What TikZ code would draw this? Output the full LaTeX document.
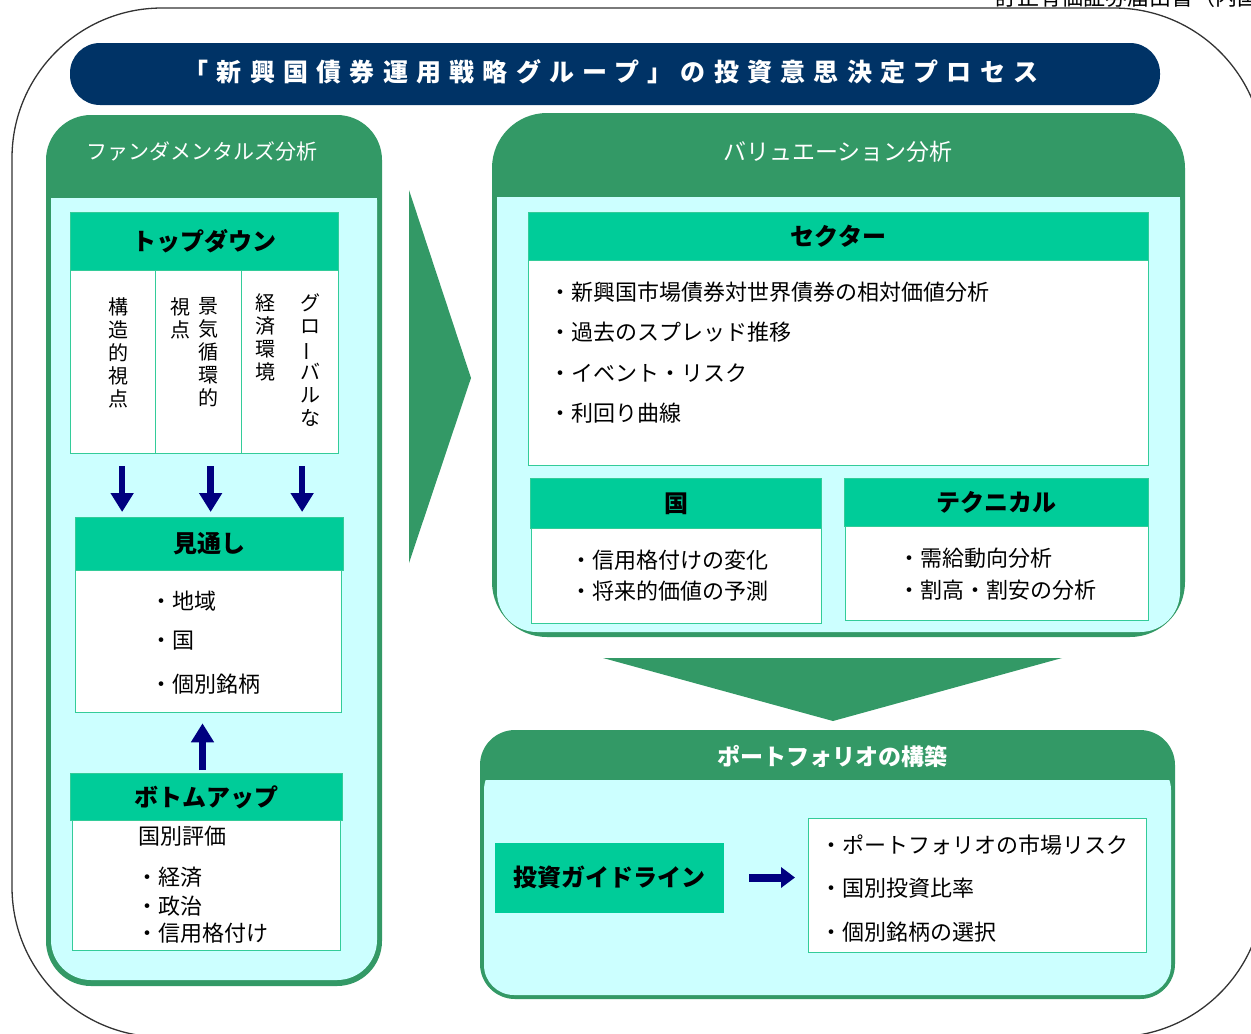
\documentclass[tikz,border=0pt]{standalone}
\usepackage{fontspec}
\usepackage{graphicx}
\setmainfont{Noto Sans CJK JP}
\usetikzlibrary{arrows.meta}

\begin{document}
\begin{tikzpicture}[x=1pt,y=-1pt,
  hdr/.style={fill=hdrgreen,draw=boxline,line width=1pt,anchor=north west,inner sep=0,font=\bfseries\fontsize{24}{28}\selectfont},
  bodybox/.style={fill=white,draw=boxline,line width=1.3pt,anchor=north west,inner sep=0},
  item/.style={anchor=west,inner sep=0,font=\fontsize{22}{26}\selectfont},
  vcol/.style={anchor=north,inner sep=0,align=center,font=\fontsize{20}{23}\selectfont},
  paneltitle/.style={text=white,inner sep=0},
  bigarrow/.style={draw=arrownavy,line width=6.5pt,-{Triangle[width=22pt,length=19pt]}}]
\definecolor{titlenavy}{HTML}{003366}
\definecolor{panelgreen}{HTML}{339966}
\definecolor{panelcyan}{HTML}{CCFFFF}
\definecolor{hdrgreen}{HTML}{00CC99}
\definecolor{boxline}{HTML}{33CC99}
\definecolor{arrownavy}{HTML}{000080}
\useasboundingbox (0,0) rectangle (1251,1034);
\draw[draw=black!80,line width=1.3pt,rounded corners=150] (12,8) rectangle (1264,1037);
\node[anchor=base west,inner sep=0,font=\fontsize{22}{24}\selectfont] (pagehdr) at (995,5) {訂正有価証券届出書（内国};

\node[fill=titlenavy,rounded corners=30,minimum width=1090,minimum height=62,inner sep=0] (bar) at (615,74) {};
\node[text=white,inner sep=0,font=\bfseries\fontsize{25}{28}\selectfont\addfontfeature{LetterSpace=33}] (title) at (611,72) {「新興国債券運用戦略グループ」の投資意思決定プロセス};

\fill[panelgreen,rounded corners=45] (46,115) rectangle (382,986);
\fill[panelcyan,rounded corners=40] (51,160) rectangle (377,980);
\fill[panelgreen] (51,150) rectangle (377,198);
\node[paneltitle,font=\fontsize{21}{24}\selectfont] (fundT) at (202,151) {ファンダメンタルズ分析};

\fill[panelgreen,rounded corners=55] (492,113) rectangle (1185,637);
\fill[panelcyan,rounded corners=40] (497,160) rectangle (1180,632);
\fill[panelgreen] (497,150) rectangle (1180,197);
\node[paneltitle,font=\fontsize{23}{26}\selectfont] (valT) at (838,152) {バリュエーション分析};

\fill[panelgreen,rounded corners=35] (480,730) rectangle (1175,999);
\fill[panelcyan,rounded corners=30] (484,760) rectangle (1171,995);
\fill[panelgreen] (484,750) rectangle (1171,780);
\node[paneltitle,font=\bfseries\fontsize{23}{26}\selectfont] (portT) at (832,757) {ポートフォリオの構築};

\fill[panelgreen] (409,190) -- (471,378) -- (409,563) -- cycle;
\fill[panelgreen] (603,658) -- (1062,658) -- (833,721) -- cycle;

\node[hdr,minimum width=268,minimum height=58] (tdH) at (70,212) {トップダウン};
\foreach \nm/\x/\w in {tdA/70/85,tdB/155/86,tdC/241/97}
  {\node[bodybox,minimum width=\w,minimum height=183] (\nm) at (\x,270) {};}
\node[vcol] (vA) at (118,297) {構\\造\\的\\視\\点};
\node[vcol] (vB1) at (208,297) {景\\気\\循\\環\\的};
\node[vcol] (vB2) at (180,297) {視\\点};
\node[vcol] (vC1) at (310,293) {グ\\ロ\\\rotatebox[origin=c]{90}{ー}\\バ\\ル\\な};
\node[vcol] (vC2) at (265,293) {経\\済\\環\\境};

\node[hdr,minimum width=268,minimum height=53] (lookH) at (75,517) {見通し};
\node[bodybox,minimum width=266,minimum height=142] (look) at (75,570) {};
\foreach \txt/\y in {・地域/601,・国/641,・個別銘柄/684}
  {\node[item] () at (150,\y) {\txt};}
\foreach \c/\dx in {tdA/9,tdB/12,tdC/12}
  {\draw[bigarrow,shorten <=12pt,shorten >=5pt] ([xshift=\dx pt]\c.south) -- ([xshift=\dx pt]\c.south |- lookH.north);}

\node[hdr,minimum width=272,minimum height=47] (buH) at (70,773) {ボトムアップ};
\node[bodybox,minimum width=268,minimum height=130] (bu) at (72,820) {};
\node[item] (buHead) at (138,836) {国別評価};
\foreach \txt/\y in {・経済/877,・政治/906,・信用格付け/933}
  {\node[item] () at (136,\y) {\txt};}
\draw[bigarrow,shorten <=3pt,shorten >=10pt] ([xshift=-4pt]buH.north) -- ([xshift=-4pt]buH.north |- look.south);

\node[hdr,minimum width=620,minimum height=48] (secH) at (528,212) {セクター};
\node[bodybox,minimum width=620,minimum height=205] (sec) at (528,260) {};
\foreach \txt/\y in {・新興国市場債券対世界債券の相対価値分析/292,・過去のスプレッド推移/332,・イベント・リスク/373,・利回り曲線/413}
  {\node[item] () at (549,\y) {\txt};}

\node[hdr,minimum width=291,minimum height=50] (ctyH) at (530,478) {国};
\node[bodybox,minimum width=290,minimum height=95] (cty) at (531,528) {};
\foreach \txt/\y in {・信用格付けの変化/560,・将来的価値の予測/591}
  {\node[item] () at (570,\y) {\txt};}

\node[hdr,minimum width=304,minimum height=48] (tecH) at (844,478) {テクニカル};
\node[bodybox,minimum width=303,minimum height=94] (tec) at (845,526) {};
\foreach \txt/\y in {・需給動向分析/558,・割高・割安の分析/590}
  {\node[item] () at (898,\y) {\txt};}

\node[hdr,draw=none,minimum width=229,minimum height=70] (guide) at (494,842) {投資ガイドライン};
\node[bodybox,minimum width=338,minimum height=134] (list) at (808,818) {};
\foreach \txt/\y in {・ポートフォリオの市場リスク/845,・国別投資比率/888,・個別銘柄の選択/932}
  {\node[item] () at (820,\y) {\txt};}
\draw[draw=arrownavy,line width=8pt,-{Triangle[width=20pt,length=14pt]},shorten <=25pt,shorten >=13pt] (guide.east) -- (guide.east -| list.west);
\end{tikzpicture}
\end{document}
